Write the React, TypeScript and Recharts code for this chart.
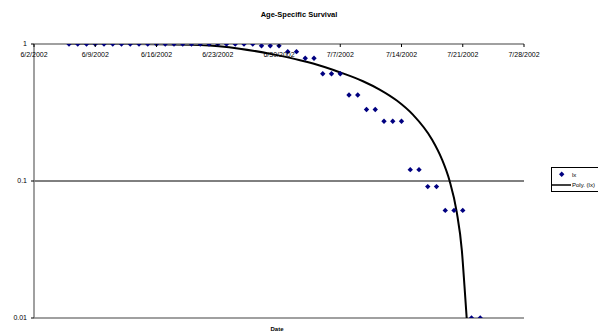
import React from 'react';
import {
  ComposedChart,
  XAxis,
  YAxis,
  Scatter,
  Line,
  ReferenceLine,
} from 'recharts';

// x is days since 6/2/2002
const tickDays = [0, 7, 14, 21, 28, 35, 42, 49, 56];
const tickLabels = [
  '6/2/2002',
  '6/9/2002',
  '6/16/2002',
  '6/23/2002',
  '6/30/2002',
  '7/7/2002',
  '7/14/2002',
  '7/21/2002',
  '7/28/2002',
];

const lxDays = [
  4, 5, 6, 7, 8, 9, 10, 11, 12, 13, 14, 15, 16, 17, 18, 19, 20, 21, 22, 23, 24, 25,
  26, 27, 28, 29, 30, 31, 32, 33, 34, 35, 36, 37, 38, 39, 40, 41, 42, 43, 44, 45,
  46, 47, 48, 49, 50, 51,
];
// last two are 0 in the data, drawn on the floor of the log axis
const lxValues = [
  1, 1, 1, 1, 1, 1, 1, 1, 1, 1, 1, 1, 1, 1, 1, 1, 1, 1, 1, 1, 1, 1,
  0.97, 0.97, 0.97, 0.879, 0.879, 0.788, 0.788, 0.606, 0.606, 0.606, 0.424, 0.424,
  0.333, 0.333, 0.273, 0.273, 0.273, 0.121, 0.121, 0.091, 0.091, 0.061, 0.061, 0.061,
  0.01, 0.01,
];

// polynomial trendline
const trendDays = [
  4, 10, 14, 19, 23.5, 27.3, 30.4, 31.9, 35, 37.6, 39.5, 41.5, 43.3, 45.5, 46.6,
  47.5, 48.3, 48.9, 49.2, 49.45,
];
const trendValues = [
  1, 1, 0.997, 0.983, 0.925, 0.84, 0.762, 0.72, 0.62, 0.535, 0.465, 0.385, 0.305,
  0.2, 0.145, 0.1, 0.06, 0.031, 0.017, 0.01,
];

const yTicks = [0.01, 0.1, 1];

const font = 'Arial, "Liberation Sans", sans-serif';

const lxData = lxDays.map((d, i) => ({ day: d, lx: lxValues[i] }));
const trendData = trendDays.map((d, i) => ({ day: d, poly: trendValues[i] }));

const DateTick = (props: any) => {
  const { x, y, payload } = props;
  const idx = tickDays.indexOf(payload.value);
  return (
    <g>
      <line x1={x} x2={x} y1={y} y2={y + 3} stroke="#000" />
      <text x={x} y={y + 13} textAnchor="middle" fontSize={7} fontFamily={font} fill="#000">
        {tickLabels[idx]}
      </text>
    </g>
  );
};

const Diamond = (props: any) => {
  const { cx, cy } = props;
  if (cx == null || cy == null) return null;
  const r = 2.7;
  return (
    <polygon
      points={`${cx},${cy - r} ${cx + r},${cy} ${cx},${cy + r} ${cx - r},${cy}`}
      fill="#000080"
    />
  );
};

export default function App() {
  return (
    <div
      style={{
        position: 'absolute',
        left: 0,
        top: 0,
        width: 598,
        height: 335,
        overflow: 'hidden',
        background: '#fff',
        fontFamily: font,
      }}
    >
      <div
        style={{
          position: 'absolute',
          left: 0,
          top: 10,
          width: 598,
          textAlign: 'center',
          fontSize: 7.5,
          fontWeight: 'bold',
        }}
      >
        Age-Specific Survival
      </div>
      <ComposedChart
        width={598}
        height={335}
        margin={{ top: 34, right: 74, bottom: 17, left: 4 }}
      >
        <XAxis
          dataKey="day"
          type="number"
          orientation="top"
          domain={[0, 56]}
          ticks={tickDays}
          interval={0}
          height={10}
          tickSize={0}
          tickMargin={0}
          tickLine={false}
          axisLine={{ stroke: '#808080', strokeWidth: 1.5 }}
          tick={<DateTick />}
          allowDataOverflow
        />
        <YAxis
          scale="log"
          type="number"
          domain={[0.01, 1]}
          ticks={yTicks}
          width={30}
          tickSize={3}
          tickMargin={4}
          axisLine={{ stroke: '#808080', strokeWidth: 1.5 }}
          tickLine={{ stroke: '#000' }}
          tick={{ fontSize: 7, fill: '#000', fontFamily: font }}
          tickFormatter={(v: number) => String(v)}
          allowDataOverflow
        />
        <ReferenceLine y={0.1} stroke="#000" strokeWidth={1} />
        <ReferenceLine y={0.01} stroke="#808080" strokeWidth={1.5} />
        <Line
          data={trendData}
          dataKey="poly"
          type="monotone"
          stroke="#000"
          strokeWidth={2}
          dot={false}
          isAnimationActive={false}
        />
        <Scatter
          data={lxData}
          dataKey="lx"
          shape={<Diamond />}
          isAnimationActive={false}
        />
      </ComposedChart>
      <div
        style={{
          position: 'absolute',
          left: 227,
          top: 326,
          width: 100,
          textAlign: 'center',
          fontSize: 6,
          fontWeight: 'bold',
        }}
      >
        Date
      </div>
      <svg
        style={{ position: 'absolute', left: 0, top: 0 }}
        width={598}
        height={335}
      >
        <rect x={551.5} y={167.5} width={60} height={24} fill="#fff" stroke="#000" />
        <polygon points="561.7,171.6 564.4,174.3 561.7,177 559,174.3" fill="#000080" />
        <text x={572} y={176.5} fontSize={6} fontFamily={font} fill="#000">
          lx
        </text>
        <line x1={552} x2={571} y1={185} y2={185} stroke="#000" strokeWidth={1.5} />
        <text x={572} y={187.2} fontSize={6} fontFamily={font} fill="#000">
          Poly. (lx)
        </text>
      </svg>
    </div>
  );
}
